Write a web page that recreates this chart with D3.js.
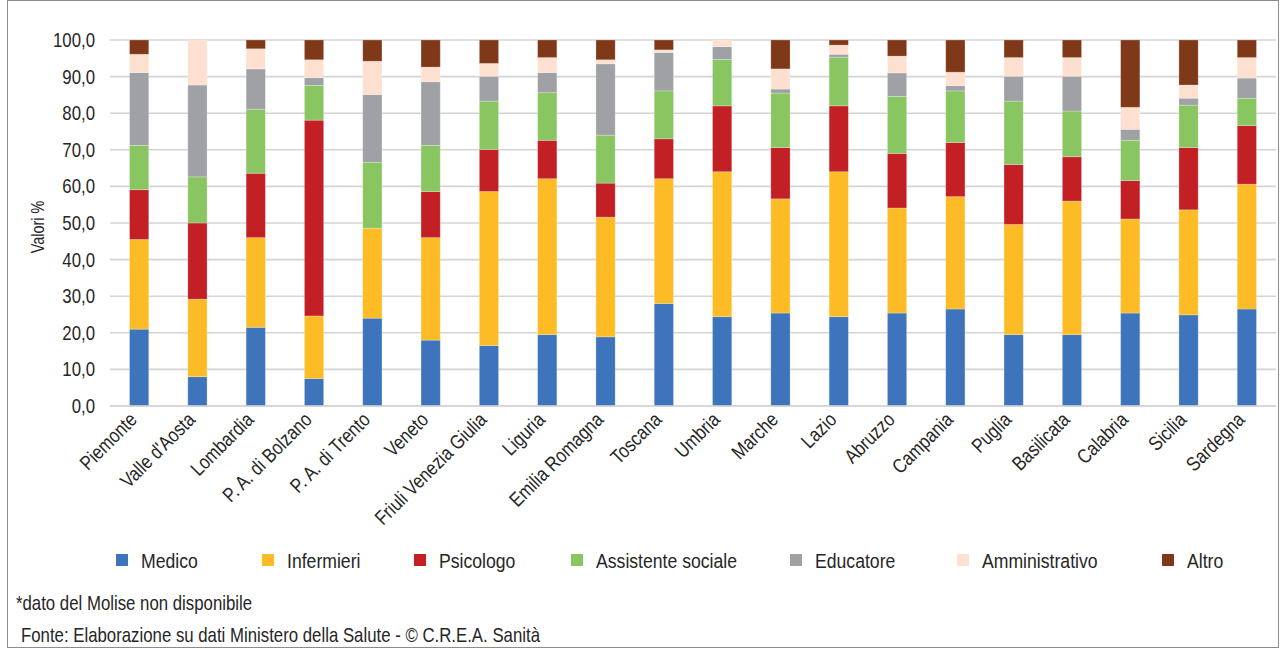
<!DOCTYPE html>
<html>
<head>
<meta charset="utf-8">
<script src="https://cdn.jsdelivr.net/npm/d3@7"></script>
<style>
  html, body { margin: 0; padding: 0; background: #fff; }
  svg { display: block; }
  text { font-family: "Liberation Sans", Arial, sans-serif; fill: #262626; }
</style>
</head>
<body>
<svg id="chart" width="1282" height="649"></svg>
<script>
// Regioni (Molise escluso)
const regions = ["Piemonte", "Valle d'Aosta", "Lombardia", "P. A. di Bolzano", "P. A. di Trento",
  "Veneto", "Friuli Venezia Giulia", "Liguria", "Emilia Romagna", "Toscana", "Umbria", "Marche",
  "Lazio", "Abruzzo", "Campania", "Puglia", "Basilicata", "Calabria", "Sicilia", "Sardegna"];

// Composizione percentuale del personale per figura professionale
const medico         = [21.0, 8.0, 21.5, 7.5, 24.0, 18.0, 16.5, 19.5, 18.9, 28.0, 24.4, 25.4, 24.4, 25.4, 26.5, 19.5, 19.5, 25.4, 24.9, 26.5];
const infermieri     = [24.5, 21.2, 24.5, 17.1, 24.6, 28.0, 42.1, 42.6, 32.7, 34.1, 39.6, 31.2, 39.6, 28.7, 30.7, 30.1, 36.5, 25.7, 28.7, 34.1];
const psicologo      = [13.6, 20.8, 17.6, 53.5, 0.0, 12.6, 11.5, 10.5, 9.3, 10.9, 18.0, 14.0, 18.0, 14.9, 14.8, 16.4, 12.1, 10.5, 17.0, 16.0];
const assistente     = [12.1, 12.6, 17.5, 9.5, 18.0, 12.6, 13.2, 13.0, 13.1, 13.1, 12.7, 14.9, 13.3, 15.6, 14.1, 17.3, 12.5, 11.0, 11.6, 7.5];
const educatore      = [19.9, 25.1, 11.0, 2.1, 18.5, 17.4, 6.8, 5.5, 19.5, 10.5, 3.5, 1.1, 0.8, 6.4, 1.4, 6.8, 9.5, 3.0, 1.9, 5.5];
const amministrativo = [5.0, 12.3, 5.5, 4.9, 9.1, 4.0, 3.5, 4.1, 1.1, 0.7, 1.8, 5.5, 2.5, 4.6, 3.7, 5.1, 5.1, 6.0, 3.6, 5.6];
const altro          = [3.9, 0.0, 2.4, 5.4, 5.8, 7.4, 6.4, 4.8, 5.4, 2.7, 0.0, 7.9, 1.4, 4.4, 8.8, 4.8, 4.8, 18.4, 12.3, 4.8];

const seriesNames = ["Medico", "Infermieri", "Psicologo", "Assistente sociale", "Educatore", "Amministrativo", "Altro"];
const seriesValues = [medico, infermieri, psicologo, assistente, educatore, amministrativo, altro];
const seriesColors = ["#3d74bc", "#fdbc25", "#c32026", "#89c661", "#a0a1a4", "#fde0d0", "#7f3918"];

const yTicks = [0, 10, 20, 30, 40, 50, 60, 70, 80, 90, 100];

// horizontal squeeze that gives the condensed look of the typeface
const SQ = 0.84;

// Build row objects for d3.stack
const rows = regions.map((r, i) => {
  const o = { region: r };
  seriesNames.forEach((s, j) => { o[s] = seriesValues[j][i]; });
  return o;
});

const svg = d3.select("#chart");

// outer frame
svg.append("rect")
  .attr("x", 7.5).attr("y", 0.5).attr("width", 1271).attr("height", 647)
  .attr("fill", "none").attr("stroke", "#8c8c8c").attr("stroke-width", 1);

const plot = { left: 110, right: 1276, top: 40, bottom: 406 };

const x = d3.scaleBand().domain(regions).range([plot.left, plot.right])
  .paddingInner(0.67).paddingOuter(0.335);
const y = d3.scaleLinear().domain([0, 100]).range([plot.bottom, plot.top]);

// gridlines
svg.append("g")
  .selectAll("line").data(yTicks).join("line")
  .attr("x1", plot.left).attr("x2", plot.right)
  .attr("y1", d => y(d)).attr("y2", d => y(d))
  .attr("stroke", "#d4d4d4").attr("stroke-width", 1.6);

// y axis labels
const yAxis = d3.axisLeft(y).tickValues(yTicks).tickSize(0).tickPadding(0)
  .tickFormat(d => d.toFixed(1).replace(".", ","));
const gy = svg.append("g").attr("transform", `translate(95,0)`).call(yAxis);
gy.select(".domain").remove();
gy.selectAll("text")
  .style("font-family", "'Liberation Sans', Arial, sans-serif")
  .style("font-size", "20px").attr("fill", "#262626")
  .attr("x", 0)
  .attr("transform", `scale(${SQ},1)`);

// axis title
svg.append("text")
  .attr("transform", `translate(44,227) rotate(-90) scale(0.76,1)`)
  .attr("text-anchor", "middle")
  .style("font-size", "19px")
  .text("Valori %");

// stacked bars
const stacked = d3.stack().keys(seriesNames)(rows);

svg.append("g")
  .selectAll("g").data(stacked).join("g")
  .attr("fill", (d, i) => seriesColors[i])
  .selectAll("rect").data(d => d).join("rect")
  .attr("x", d => x(d.data.region))
  .attr("width", x.bandwidth())
  .attr("y", d => y(d[1]))
  .attr("height", d => Math.max(0, y(d[0]) - y(d[1])))
  .attr("stroke", "#ffffff").attr("stroke-opacity", 0.3).attr("stroke-width", 0.8);

// x axis
const xAxis = d3.axisBottom(x).tickSize(0).tickPadding(0);
const gx = svg.append("g").attr("transform", `translate(0,${plot.bottom})`).call(xAxis);
gx.select(".domain").attr("stroke", "#d4d4d4").attr("stroke-width", 1.6)
  .attr("d", `M${plot.left},0H${plot.right}`);
gx.selectAll("text")
  .style("font-family", "'Liberation Sans', Arial, sans-serif")
  .style("font-size", "20px")
  .attr("fill", "#262626")
  .attr("text-anchor", "end")
  .attr("dy", null).attr("y", 0)
  .attr("transform", `translate(-1,15) rotate(-45) scale(${SQ},1)`);

// legend
const legendX = [116, 262, 414, 571, 790, 957, 1162];
const lg = svg.append("g").selectAll("g").data(seriesNames).join("g")
  .attr("transform", (d, i) => `translate(${legendX[i]},554)`);
lg.append("rect").attr("width", 12).attr("height", 12)
  .attr("fill", (d, i) => seriesColors[i]);
lg.append("text")
  .attr("transform", `translate(25,13.5) scale(${SQ},1)`)
  .style("font-size", "21px")
  .text(d => d);

// notes
svg.append("text").attr("transform", `translate(16,610) scale(${SQ},1)`)
  .style("font-size", "20px")
  .text("*dato del Molise non disponibile");
svg.append("text").attr("transform", `translate(21,642) scale(${SQ},1)`)
  .style("font-size", "20px")
  .text("Fonte: Elaborazione su dati Ministero della Salute - © C.R.E.A. Sanità");
</script>
</body>
</html>
